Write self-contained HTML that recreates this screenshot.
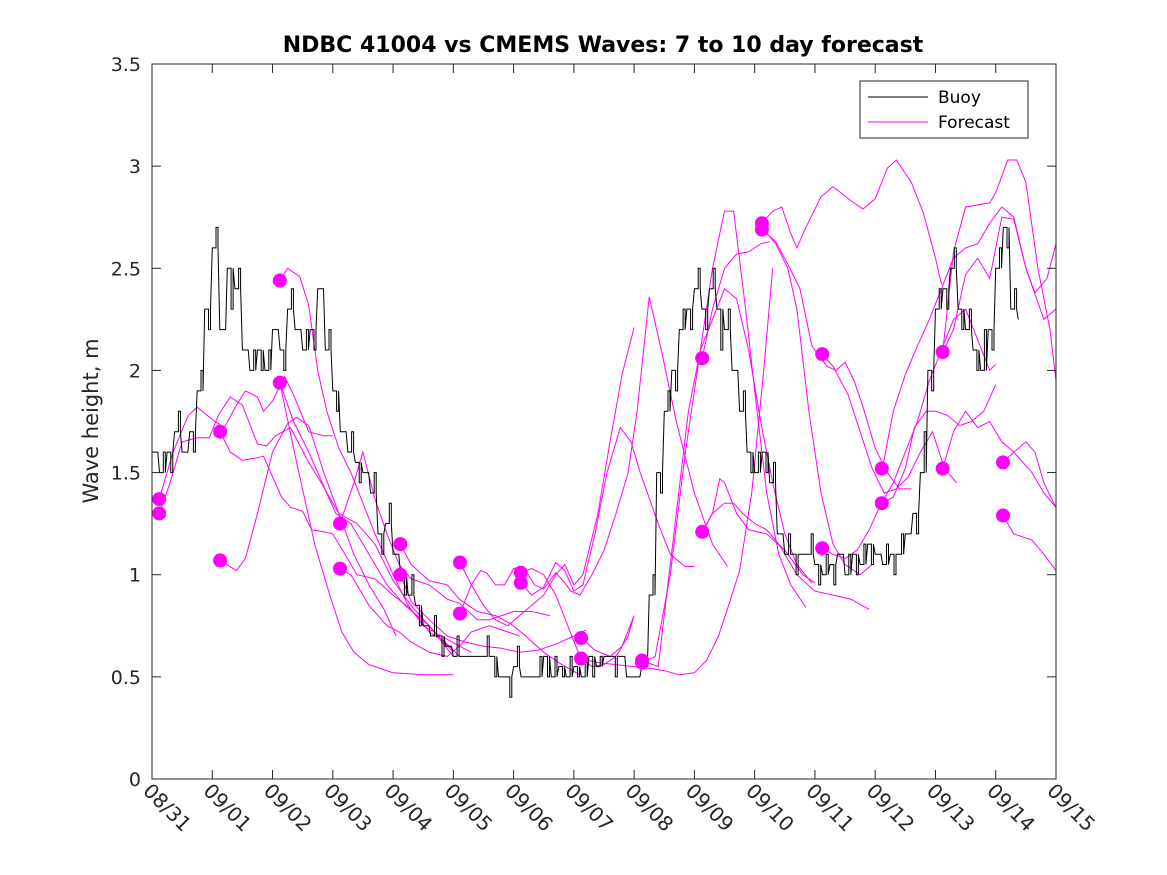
<!DOCTYPE html>
<html><head><meta charset="utf-8"><style>
html,body{margin:0;padding:0;background:#fff;}
svg{display:block;font-family:"DejaVu Sans","Liberation Sans",sans-serif;}
</style></head><body>
<svg id="chart" width="1167" height="875" viewBox="0 0 1167 875" xmlns="http://www.w3.org/2000/svg">
<rect width="1167" height="875" fill="#fff"/>
<text x="603" y="52" text-anchor="middle" font-size="22" font-weight="bold" fill="#000">NDBC 41004 vs CMEMS Waves: 7 to 10 day forecast</text>
<text transform="translate(98,421) rotate(-90)" text-anchor="middle" font-size="21" fill="#262626">Wave height, m</text>
<g id="plot"></g>
<rect x="152" y="64" width="904" height="715" fill="none" stroke="#262626" stroke-width="1"/>
<g id="axes"></g>
<g>
<rect x="860" y="81" width="168" height="57" fill="#fff" stroke="#262626" stroke-width="1"/>
<line x1="868" y1="97" x2="928" y2="97" stroke="#000" stroke-width="1"/>
<text x="938" y="103" font-size="17" fill="#000">Buoy</text>
<line x1="868" y1="122" x2="928" y2="122" stroke="#ff00ff" stroke-width="1"/>
<text x="938" y="128" font-size="17" fill="#000">Forecast</text>
</g>
</svg>
<script>
const xTickLabels = ["08/31","09/01","09/02","09/03","09/04","09/05","09/06","09/07","09/08","09/09","09/10","09/11","09/12","09/13","09/14","09/15"];
const yTicks = [0,0.5,1,1.5,2,2.5,3,3.5];
const buoyStepDays = 0.125;
const buoyValues = [1.6,1.5,1.6,1.7,1.6,1.7,1.9,2.3,2.6,2.2,2.5,2.4,2.1,2.0,2.1,2.0,2.2,2.1,2.3,2.2,2.1,2.2,2.4,2.1,1.9,1.7,1.6,1.55,1.5,1.4,1.2,1.25,1.1,1.0,0.9,0.85,0.75,0.7,0.7,0.65,0.6,0.6,0.6,0.6,0.6,0.6,0.5,0.5,0.55,0.5,0.5,0.5,0.6,0.5,0.55,0.5,0.55,0.5,0.6,0.55,0.6,0.6,0.6,0.5,0.5,0.55,0.9,1.5,1.8,2.0,2.2,2.3,2.4,2.3,2.4,2.3,2.2,2.0,1.8,1.6,1.5,1.6,1.45,1.2,1.1,1.1,1.1,1.1,1.05,1.0,1.05,1.1,1.0,1.1,1.05,1.15,1.1,1.05,1.1,1.1,1.2,1.3,1.5,2.0,2.3,2.4,2.5,2.3,2.2,2.1,2.0,2.2,2.5,2.7,2.3,2.25];
const buoyNoise = [0,0.1,-0.1,0.1,0,-0.1,0.1,-0.1,0.1,0,-0.2,0.1,0,0.1,-0.1,0.1,0,-0.1,0.1,0,0.1,-0.1,0,0.1,-0.1,0,0.1,-0.1,0,0.1,-0.1,0.1,0,-0.1,0.1,-0.1,0,0.1,-0.1,0,0.1,0,0,0,0.1,-0.1,0,-0.1,0.1,0,0,0.1,-0.1,0.1,-0.05,0.1,-0.05,0.1,-0.1,0.05,0,-0.1,0,0,0,0,0.1,-0.1,0.1,-0.1,0.1,-0.1,0.1,-0.1,0.1,-0.2,0.1,0,0.1,-0.1,0.1,-0.1,0.1,0,0.1,-0.1,0,0.1,-0.1,0.1,-0.1,0,0.1,-0.1,0.1,-0.1,0,0.1,-0.1,0.1,0,-0.1,0.2,-0.1,0.1,-0.1,0.1,-0.1,0.1,-0.1,0.2,-0.1,0.1,-0.1,0.1,0];
const forecastDotDays = [0.12,0.12,1.13,1.13,2.12,2.12,3.12,3.12,4.12,4.12,5.11,5.11,6.12,6.12,7.12,7.12,8.13,8.13,9.13,9.13,10.12,10.12,11.12,11.12,12.11,12.11,13.12,13.12,14.12,14.12];
const forecastDotValues = [1.37,1.30,1.70,1.07,2.44,1.94,1.25,1.03,1.15,1.00,1.06,0.81,1.01,0.96,0.69,0.59,0.58,0.57,2.06,1.21,2.72,2.69,2.08,1.13,1.52,1.35,2.09,1.52,1.55,1.29];
const forecastLines = [
[[0.12,1.37],[0.35,1.6],[0.6,1.78],[0.75,1.82],[1.0,1.76],[1.2,1.72],[1.4,1.83],[1.55,1.9],[1.75,1.87],[1.85,1.8],[2.0,1.85],[2.2,1.97],[2.35,1.88],[2.6,1.7],[2.85,1.68],[3.0,1.68]],
[[0.12,1.30],[0.3,1.45],[0.5,1.65],[0.75,1.67],[0.95,1.67],[1.1,1.78],[1.3,1.87],[1.5,1.83],[1.75,1.64],[1.9,1.63],[2.05,1.68],[2.3,1.72],[2.6,1.55],[2.85,1.43],[3.05,1.3],[3.3,1.25],[3.6,1.1],[3.9,0.95],[4.2,0.85],[4.6,0.75],[5.0,0.62]],
[[1.13,1.70],[1.3,1.6],[1.5,1.56],[1.7,1.57],[1.85,1.58],[2.0,1.48],[2.15,1.38],[2.3,1.33],[2.5,1.31],[2.65,1.22],[2.85,1.21],[3.0,1.2],[3.2,1.1],[3.4,1.0],[3.7,0.98],[4.0,0.9],[4.3,0.83],[4.6,0.72],[4.9,0.66],[5.1,0.6]],
[[1.13,1.07],[1.4,1.02],[1.55,1.08],[1.75,1.3],[2.0,1.6],[2.25,1.74],[2.4,1.77],[2.6,1.73],[2.85,1.5],[3.1,1.3],[3.35,1.1],[3.6,0.95],[3.85,0.83],[4.05,0.70]],
[[2.12,2.44],[2.25,2.5],[2.45,2.46],[2.6,2.32],[2.75,2.0],[2.9,1.8],[3.1,1.62],[3.3,1.5],[3.5,1.35],[3.7,1.2],[4.0,1.0],[4.25,0.85],[4.5,0.75],[4.8,0.7],[5.1,0.65],[5.3,0.62]],
[[2.12,1.94],[2.4,1.55],[2.7,1.15],[2.95,0.9],[3.15,0.72],[3.35,0.62],[3.6,0.56],[4.0,0.52],[4.5,0.51],[5.0,0.51]],
[[2.12,1.94],[2.35,1.75],[2.6,1.6],[2.9,1.4],[3.1,1.3],[3.4,1.25],[3.7,1.15],[4.0,0.97],[4.3,0.85],[4.6,0.75],[5.0,0.6]],
[[3.12,1.25],[3.35,1.45],[3.5,1.6],[3.7,1.37],[3.9,1.2],[4.1,1.05],[4.3,0.98],[4.6,0.95],[4.9,0.88],[5.1,0.86],[5.4,0.78],[5.6,0.78],[5.8,0.8],[6.0,0.82],[6.3,0.82],[6.6,0.8]],
[[3.12,1.03],[3.3,1.0],[3.6,0.85],[3.9,0.75],[4.1,0.72],[4.3,0.67],[4.6,0.62],[4.9,0.6],[5.1,0.65],[5.3,0.72],[5.6,0.75],[5.9,0.72],[6.1,0.7]],
[[4.12,1.15],[4.3,1.05],[4.6,0.97],[4.9,0.95],[5.1,0.88],[5.4,0.82],[5.7,0.8],[5.95,0.76],[6.2,0.7],[6.5,0.62],[6.8,0.56],[7.1,0.51]],
[[4.12,1.00],[4.3,0.87],[4.6,0.78],[4.9,0.7],[5.2,0.67],[5.5,0.65],[5.8,0.64],[6.1,0.62],[6.4,0.63],[6.7,0.66],[7.0,0.7],[7.2,0.73]],
[[5.11,1.06],[5.3,0.95],[5.5,0.85],[5.7,0.78],[5.9,0.75],[6.1,0.8],[6.3,0.85],[6.5,0.9],[6.7,1.0],[6.85,1.05],[7.0,0.95],[7.15,1.0],[7.4,1.3],[7.6,1.65],[7.8,1.98],[8.0,2.21]],
[[5.11,0.81],[5.3,0.95],[5.45,1.02],[5.55,1.01],[5.7,0.95],[5.85,0.95],[6.0,1.03],[6.15,1.04],[6.35,0.95],[6.5,0.93],[6.7,1.01],[6.85,0.96],[6.95,0.92],[7.1,0.9],[7.3,1.0],[7.5,1.12],[7.7,1.3],[7.9,1.5],[8.05,1.8],[8.25,2.36],[8.45,2.1],[8.7,1.75],[9.0,1.4],[9.3,1.15],[9.55,1.04]],
[[6.12,1.01],[6.3,1.03],[6.5,1.0],[6.7,0.9],[6.9,0.75],[7.1,0.6],[7.3,0.55],[7.5,0.56],[7.7,0.6],[7.9,0.7],[8.0,0.8]],
[[6.12,0.96],[6.3,0.9],[6.5,0.94],[6.7,1.06],[6.85,1.02],[7.0,0.92],[7.15,0.95],[7.35,1.2],[7.55,1.5],[7.77,1.72],[7.95,1.65],[8.1,1.5],[8.4,1.25],[8.6,1.1],[8.85,1.04],[9.0,1.04]],
[[7.12,0.69],[7.35,0.63],[7.6,0.6],[7.8,0.65],[8.0,0.8]],
[[7.12,0.59],[7.4,0.57],[7.7,0.56],[8.0,0.55],[8.3,0.54],[8.5,0.53],[8.75,0.51],[9.0,0.52],[9.2,0.58],[9.4,0.7],[9.6,0.88],[9.75,1.02],[9.95,1.4],[10.15,2.0],[10.3,2.5]],
[[8.13,0.57],[8.35,0.6],[8.6,1.0],[8.85,1.6],[9.1,2.1],[9.3,2.5],[9.5,2.78],[9.65,2.78],[9.85,2.3],[10.0,1.9],[10.2,1.4],[10.4,1.1],[10.6,0.95],[10.85,0.84]],
[[8.13,0.58],[8.4,0.55],[8.7,1.3],[8.9,1.8],[9.1,2.1],[9.3,2.25],[9.5,2.4],[9.7,2.35],[9.9,2.1],[10.1,1.75],[10.3,1.45],[10.5,1.2],[10.7,1.05],[10.95,0.96]],
[[9.13,2.06],[9.3,2.3],[9.5,2.5],[9.7,2.57],[9.9,2.58],[10.1,2.62],[10.25,2.63]],
[[9.13,1.21],[9.3,1.3],[9.42,1.47],[9.5,1.45],[9.7,1.3],[9.9,1.22],[10.2,1.2],[10.5,1.12],[10.8,1.0],[11.0,0.96]],
[[9.13,1.21],[9.3,1.3],[9.5,1.35],[9.65,1.35],[9.8,1.3],[10.0,1.25],[10.2,1.22],[10.4,1.15],[10.7,1.0],[11.0,0.92],[11.3,0.9],[11.6,0.88],[11.9,0.83]],
[[10.12,2.72],[10.3,2.78],[10.45,2.8],[10.6,2.67],[10.7,2.6],[10.85,2.7],[11.1,2.85],[11.3,2.9],[11.6,2.83],[11.8,2.79],[12.0,2.84],[12.2,2.99],[12.35,3.03],[12.6,2.92],[12.8,2.77],[13.0,2.55],[13.1,2.42]],
[[10.12,2.69],[10.35,2.63],[10.55,2.52],[10.75,2.4],[10.95,2.12],[11.2,2.02],[11.35,2.0],[11.5,2.04],[11.65,1.95],[11.8,1.82],[12.0,1.62],[12.2,1.5],[12.4,1.42],[12.6,1.42]],
[[10.12,2.70],[10.35,2.62],[10.55,2.5],[10.7,2.3],[10.9,1.8],[11.1,1.4],[11.3,1.15],[11.5,1.05],[11.75,1.0],[11.95,1.05]],
[[11.12,2.08],[11.3,2.02],[11.55,1.88],[11.75,1.7],[11.95,1.52],[12.15,1.4],[12.35,1.42],[12.55,1.48],[12.75,1.6],[12.95,1.7],[13.15,1.52],[13.35,1.45]],
[[11.12,1.13],[11.3,1.1],[11.5,1.08],[11.7,1.12],[11.9,1.22],[12.1,1.35],[12.3,1.45],[12.5,1.6],[12.7,1.75],[12.9,1.95],[13.1,2.1],[13.3,2.25],[13.5,2.3],[13.7,2.15],[13.9,2.0],[14.0,2.03]],
[[12.12,1.52],[12.3,1.8],[12.5,1.98],[12.7,2.12],[12.9,2.25],[13.1,2.4],[13.3,2.55],[13.5,2.6],[13.7,2.62],[13.9,2.72],[14.1,2.8],[14.3,2.75],[14.5,2.5],[14.65,2.38],[14.85,2.45],[15.0,2.62]],
[[12.12,1.35],[12.3,1.38],[12.5,1.52],[12.65,1.72],[12.85,1.8],[13.0,1.8],[13.2,1.78],[13.4,1.73],[13.6,1.75],[13.8,1.8],[14.0,1.93]],
[[13.12,2.09],[13.3,2.58],[13.5,2.8],[13.9,2.82],[14.0,2.87],[14.2,3.03],[14.35,3.03],[14.5,2.92],[14.7,2.5],[14.9,2.2],[15.0,1.95]],
[[13.12,2.09],[13.3,2.2],[13.5,2.47],[13.7,2.55],[13.9,2.45],[14.1,2.75],[14.3,2.74],[14.5,2.5],[14.8,2.25],[15.0,2.3]],
[[13.12,1.52],[13.3,1.7],[13.5,1.8],[13.7,1.72],[13.9,1.75],[14.1,1.65],[14.3,1.6],[14.6,1.5],[14.8,1.4],[15.0,1.33]],
[[14.12,1.55],[14.3,1.6],[14.5,1.65],[14.65,1.6],[14.8,1.45],[15.0,1.33]],
[[14.12,1.29],[14.3,1.2],[14.6,1.17],[14.8,1.1],[15.0,1.02]]
];

const NS = "http://www.w3.org/2000/svg";
const X0 = 152, X1 = 1056, Y0 = 779, Y1 = 64;
const xMin = 0, xMax = 15, yMin = 0, yMax = 3.5;
function xs(d){ return X0 + (d - xMin) / (xMax - xMin) * (X1 - X0); }
function ys(v){ return Y0 - (v - yMin) / (yMax - yMin) * (Y0 - Y1); }
function mk(tag, attrs, parent){
  const e = document.createElementNS(NS, tag);
  for (const k in attrs) e.setAttribute(k, attrs[k]);
  parent.appendChild(e);
  return e;
}
const plot = document.getElementById('plot');
const axes = document.getElementById('axes');

forecastLines.forEach((ln, i) => {
  const pts = ln.map(p => xs(p[0]).toFixed(1) + ',' + ys(p[1]).toFixed(1)).join(' ');
  const pl = mk('polyline', {points: pts, fill: 'none', stroke: '#ff00ff', 'stroke-width': 1}, plot);
  
  
});

let d = '';
buoyValues.forEach((v, i) => {
  const x = xs(i * buoyStepDays), y = ys(v);
  const xm = xs((i + 0.5) * buoyStepDays), yn = ys(v + (buoyNoise[i] || 0));
  if (i === 0) d += 'M' + x.toFixed(1) + ',' + y.toFixed(1);
  else d += 'L' + x.toFixed(1) + ',' + y.toFixed(1);
  if (i < buoyValues.length - 1) {
    d += 'H' + xm.toFixed(1) + 'V' + yn.toFixed(1) + 'H' + (xm + 2).toFixed(1) + 'V' + y.toFixed(1);
  }
});
const bp = mk('path', {d: d, fill: 'none', stroke: '#000', 'stroke-width': 1}, plot);



forecastDotDays.forEach((dd, i) => {
  const c = mk('circle', {cx: xs(dd).toFixed(1), cy: ys(forecastDotValues[i]).toFixed(1), r: 7, fill: '#ff00ff'}, plot);
  
  
});

yTicks.forEach(v => {
  const y = ys(v);
  mk('line', {x1: X0, y1: y, x2: X0 + 9, y2: y, stroke: '#262626', 'stroke-width': 1}, axes);
  mk('line', {x1: X1, y1: y, x2: X1 - 9, y2: y, stroke: '#262626', 'stroke-width': 1}, axes);
  const t = mk('text', {x: X0 - 11, y: y + 7, 'text-anchor': 'end', 'font-size': 19, fill: '#262626'}, axes);
  t.textContent = String(v);
  
  
});
xTickLabels.forEach((lab, i) => {
  const x = xs(i);
  mk('line', {x1: x, y1: Y0, x2: x, y2: Y0 - 9, stroke: '#262626', 'stroke-width': 1}, axes);
  mk('line', {x1: x, y1: Y1, x2: x, y2: Y1 + 9, stroke: '#262626', 'stroke-width': 1}, axes);
  const t = mk('text', {transform: 'translate(' + (x - 10).toFixed(1) + ',' + (Y0 + 13) + ') rotate(45)', 'font-size': 20, fill: '#262626'}, axes);
  t.textContent = lab;
  
  
});
</script>
</body></html>
